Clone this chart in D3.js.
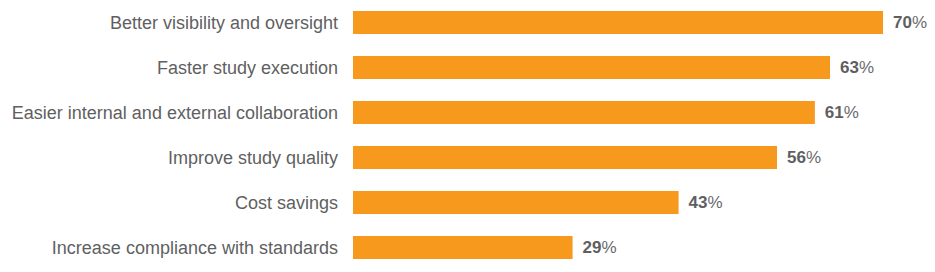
<!DOCTYPE html>
<html>
<head>
<meta charset="utf-8">
<script src="https://cdn.jsdelivr.net/npm/d3@7"></script>
<style>
  body { margin: 0; background: #fff; }
</style>
</head>
<body>
<div id="chart"></div>
<script>
const categories = [
  "Better visibility and oversight",
  "Faster study execution",
  "Easier internal and external collaboration",
  "Improve study quality",
  "Cost savings",
  "Increase compliance with standards"
]
const values = [70, 63, 61, 56, 43, 29]

const width = 935
const height = 272
const margin = {left: 353, top: 11}

const svg = d3.select("#chart")
    .append("svg")
    .attr("width", width)
    .attr("height", height)
    .style("font-family", "'Liberation Sans', Arial, sans-serif");

// 70% ends at x=883
const x = d3.scaleLinear().domain([0, 70]).range([0, 530]);
// rows 45px apart, bars 23px tall
const y = d3.scaleBand().domain(categories).range([0, 248]).paddingInner(22 / 45).paddingOuter(0);

const g = svg.append("g").attr("transform", `translate(${margin.left},${margin.top})`);

g.selectAll("rect")
    .data(categories)
    .enter()
    .append("rect")
    .attr("x", 0)
    .attr("y", d => y(d))
    .attr("width", (d, i) => x(values[i]))
    .attr("height", y.bandwidth())
    .attr("fill", "#F6991D");

// category labels
g.selectAll(".cat")
    .data(categories)
    .enter()
    .append("text")
    .attr("class", "cat")
    .attr("x", -15)
    .attr("y", d => y(d) + y.bandwidth() / 2)
    .attr("dy", "0.35em")
    .attr("text-anchor", "end")
    .attr("fill", "#5f5f62")
    .style("font-size", "18px")
    .text(d => d);

// value labels
const vl = g.selectAll(".val")
    .data(categories)
    .enter()
    .append("text")
    .attr("class", "val")
    .attr("x", (d, i) => x(values[i]) + 10)
    .attr("y", d => y(d) + y.bandwidth() / 2)
    .attr("dy", "0.35em")
    .attr("fill", "#5f5f62")
    .style("font-size", "17px");
vl.append("tspan").style("font-weight", "bold").text((d, i) => values[i]);
vl.append("tspan").style("fill", "#6a6a6d").text("%");
</script>
</body>
</html>
